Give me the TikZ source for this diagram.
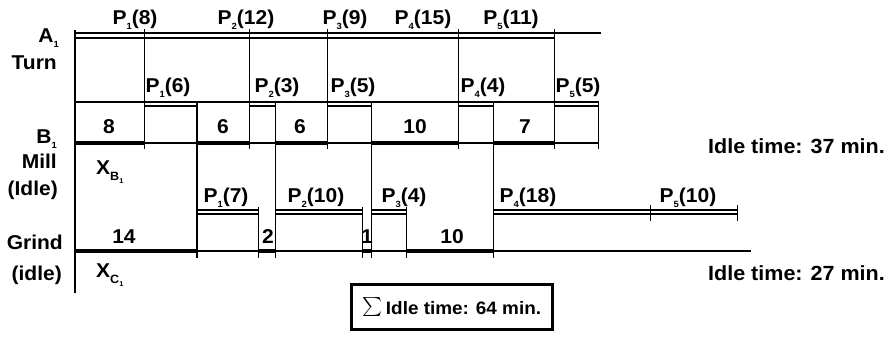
\documentclass[tikz,border=0pt]{standalone}
\usepackage{fontspec}
\setmainfont{Liberation Sans}[FakeStretch=1.05]
\newcommand\sbx[1]{\raisebox{-0.25em}{\fontsize{9}{9}\selectfont #1}}
\newcommand\sbxl[1]{\raisebox{-0.3em}{\fontsize{12}{12}\selectfont #1}}
\newcommand\sbsx[1]{\raisebox{-0.25em}{\fontsize{7}{7}\selectfont #1}}
\newcommand\tx[1]{75+8.72*(#1)}
\tikzset{
  lbl/.style={font=\fontsize{20}{22}\selectfont\bfseries, inner sep=0pt},
  side/.style={lbl, anchor=east},
  thin line/.style={line width=1.2pt, line cap=rect},
  thick line/.style={line width=4pt},
  bar/.style={line width=1.1pt},
}
\begin{document}
\begin{tikzpicture}[x=1pt,y=-1pt]
\useasboundingbox (0,0) rectangle (888,341);
% axis
\draw[thin line] (75,31) -- (75,292);
% Row A
\draw[thin line] (75,33) -- (600,33);
\draw[bar] (75,38) -- ({\tx{55}},38);
\foreach \t in {8,20,29,44,55} \draw[thin line] ({\tx{\t}},30) -- ({\tx{\t}},148);
% Row B
\draw[thin line] (75,102) -- ({\tx{60}},102);
\foreach \a/\b in {8/14,20/23,29/34,44/48,55/60}
  \draw[bar] ({\tx{\a}},102) rectangle ({\tx{\b}},106);
\draw[thin line] (75,143) -- ({\tx{60}},143);
\foreach \a/\b in {0/8,14/20,23/29,34/44,48/55}
  \draw[thick line] ({\tx{\a}},143) -- ({\tx{\b}},143);
\foreach \t in {14,23,34,48} \draw[thin line] ({\tx{\t}},102) -- ({\tx{\t}},257);
\draw[thin line] ({\tx{60}},102) -- ({\tx{60}},148);
% Grind
\foreach \a/\b in {14/21,23/33,34/38,48/66,66/76}
  \draw[bar] ({\tx{\a}},210) rectangle ({\tx{\b}},214);
\foreach \t in {21,33,38} \draw[thin line] ({\tx{\t}},208) -- ({\tx{\t}},257);
\foreach \t in {66,76} \draw[thin line] ({\tx{\t}},206) -- ({\tx{\t}},220);
\draw[thin line] (75,251) -- (750,251);
\foreach \a/\b in {0/14,21/23,33/34,38/48}
  \draw[thick line] ({\tx{\a}},251) -- ({\tx{\b}},251);
% Row A labels
\node[lbl] (a1) at (135,20) {P\sbx{1}(8)};
\node[lbl] (a2) at (246,20) {P\sbx{2}(12)};
\node[lbl] (a3) at (345,20) {P\sbx{3}(9)};
\node[lbl] (a4) at (423,20) {P\sbx{4}(15)};
\node[lbl] (a5) at (511,20) {P\sbx{5}(11)};
% Row B labels
\node[lbl] (b1) at (168,88) {P\sbx{1}(6)};
\node[lbl] (b2) at (277,88) {P\sbx{2}(3)};
\node[lbl] (b3) at (353,88) {P\sbx{3}(5)};
\node[lbl] (b4) at (483,88) {P\sbx{4}(4)};
\node[lbl] (b5) at (578,88) {P\sbx{5}(5)};
\node[lbl] (bi1) at (109,127) {8};
\node[lbl] (bi2) at (223,127) {6};
\node[lbl] (bi3) at (300,127) {6};
\node[lbl] (bi4) at (415,127) {10};
\node[lbl] (bi5) at (525,127) {7};
% Grind labels
\node[lbl] (c1) at (226,198) {P\sbx{1}(7)};
\node[lbl] (c2) at (316,198) {P\sbx{2}(10)};
\node[lbl] (c3) at (404,198) {P\sbx{3}(4)};
\node[lbl] (c4) at (528,198) {P\sbx{4}(18)};
\node[lbl] (c5) at (688,198) {P\sbx{5}(10)};
\node[lbl] (ci1) at (124,237) {14};
\node[lbl] (ci2) at (268,237) {2};
\node[lbl] (ci3) at (367,237) {1};
\node[lbl] (ci4) at (452,237) {10};
% side labels
\node[side] (sA) at (59,38) {A\sbx{1}};
\node[side] (sT) at (57,63) {Turn};
\node[side] (sB) at (57,139) {B\sbx{1}};
\node[side] (sM) at (57,161) {Mill};
\node[side] (sI) at (58,190) {(Idle)};
\node[side] (sG) at (63,242) {Grind};
\node[side] (si) at (62,275) {(idle)};
\node[lbl, anchor=west] (xb) at (96,172) {X\sbxl{B\sbsx{1}}};
\node[lbl, anchor=west] (xc) at (96,275) {X\sbxl{C\sbsx{1}}};
\node[lbl, anchor=east, font=\fontsize{20.5}{22}\selectfont\bfseries] (it1) at (885,146) {Idle time: 37 min.};
\node[lbl, anchor=east, font=\fontsize{20.5}{22}\selectfont\bfseries] (it2) at (885,273) {Idle time: 27 min.};
% sum box
\node[draw, line width=2.8pt, minimum width=201pt, minimum height=45pt, inner sep=0pt,
      font=\fontsize{18}{20}\selectfont\bfseries] (sum) at (452,307)
      {\raisebox{-0.05em}{\scalebox{1.9}{$\sum$}}\,Idle time: 64 min.};
\end{tikzpicture}
\end{document}
